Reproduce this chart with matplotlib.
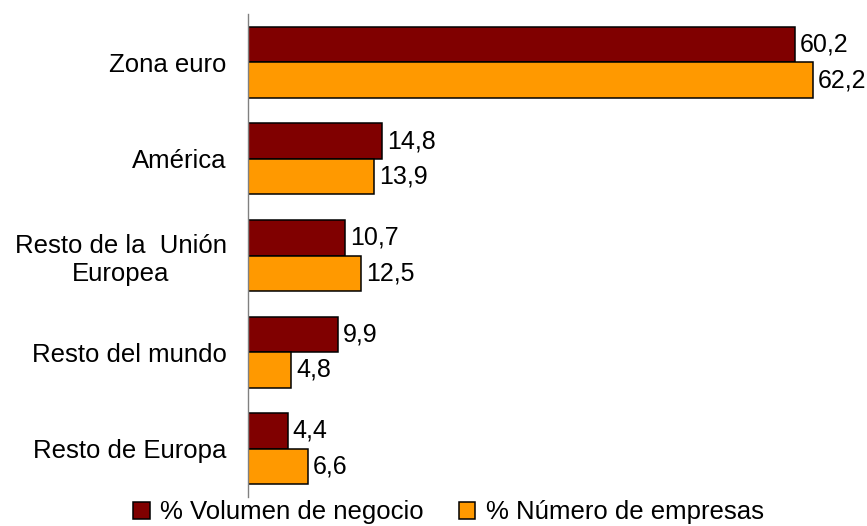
import numpy as np
import matplotlib
matplotlib.use("Agg")
import matplotlib.pyplot as plt

plt.rcParams['font.family'] = ['Liberation Sans', 'DejaVu Sans']

categories = ["Zona euro", "América", "Resto de la  Unión\nEuropea",
              "Resto del mundo", "Resto de Europa"]
volumen = [60.2, 14.8, 10.7, 9.9, 4.4]
empresas = [62.2, 13.9, 12.5, 4.8, 6.6]
series_names = ["% Volumen de negocio", "% Número de empresas"]
colors = ["#800000", "#FF9900"]

fig = plt.figure(figsize=(8.67, 5.26), dpi=100)
ax = fig.add_axes([0.2855, 0.0551, 0.6920, 0.9183])

y = np.arange(len(categories))
h = 0.368
bars1 = ax.barh(y - h / 2, volumen, height=h, color=colors[0], edgecolor="black",
                linewidth=1.1, label=series_names[0])
bars2 = ax.barh(y + h / 2, empresas, height=h, color=colors[1], edgecolor="black",
                linewidth=1.1, label=series_names[1])

for bars, vals in ((bars1, volumen), (bars2, empresas)):
    for b, v in zip(bars, vals):
        ax.annotate(f"{v:.1f}".replace(".", ","),
                    (b.get_width(), b.get_y() + b.get_height() / 2),
                    xytext=(3.5, 0), textcoords="offset points",
                    ha="left", va="center", fontsize=18)

ax.set_xlim(0, 66)
ax.set_ylim(len(categories) - 0.5, -0.5)
ax.set_yticks(y)
ax.set_yticklabels(categories, fontsize=18.5, multialignment="center")
ax.set_xticks([])
ax.tick_params(axis="y", length=0, pad=15)

for s in ("top", "right", "bottom"):
    ax.spines[s].set_visible(False)
ax.spines["left"].set_color("#808080")
ax.spines["left"].set_linewidth(1.0)

fig.legend(loc="center", bbox_to_anchor=(0.517, 0.026), ncol=2, frameon=False,
           fontsize=18.5, handlelength=0.66, handleheight=0.62,
           handletextpad=0.39, columnspacing=1.36, borderaxespad=0, borderpad=0)

fig.savefig("out.png", dpi=100)
